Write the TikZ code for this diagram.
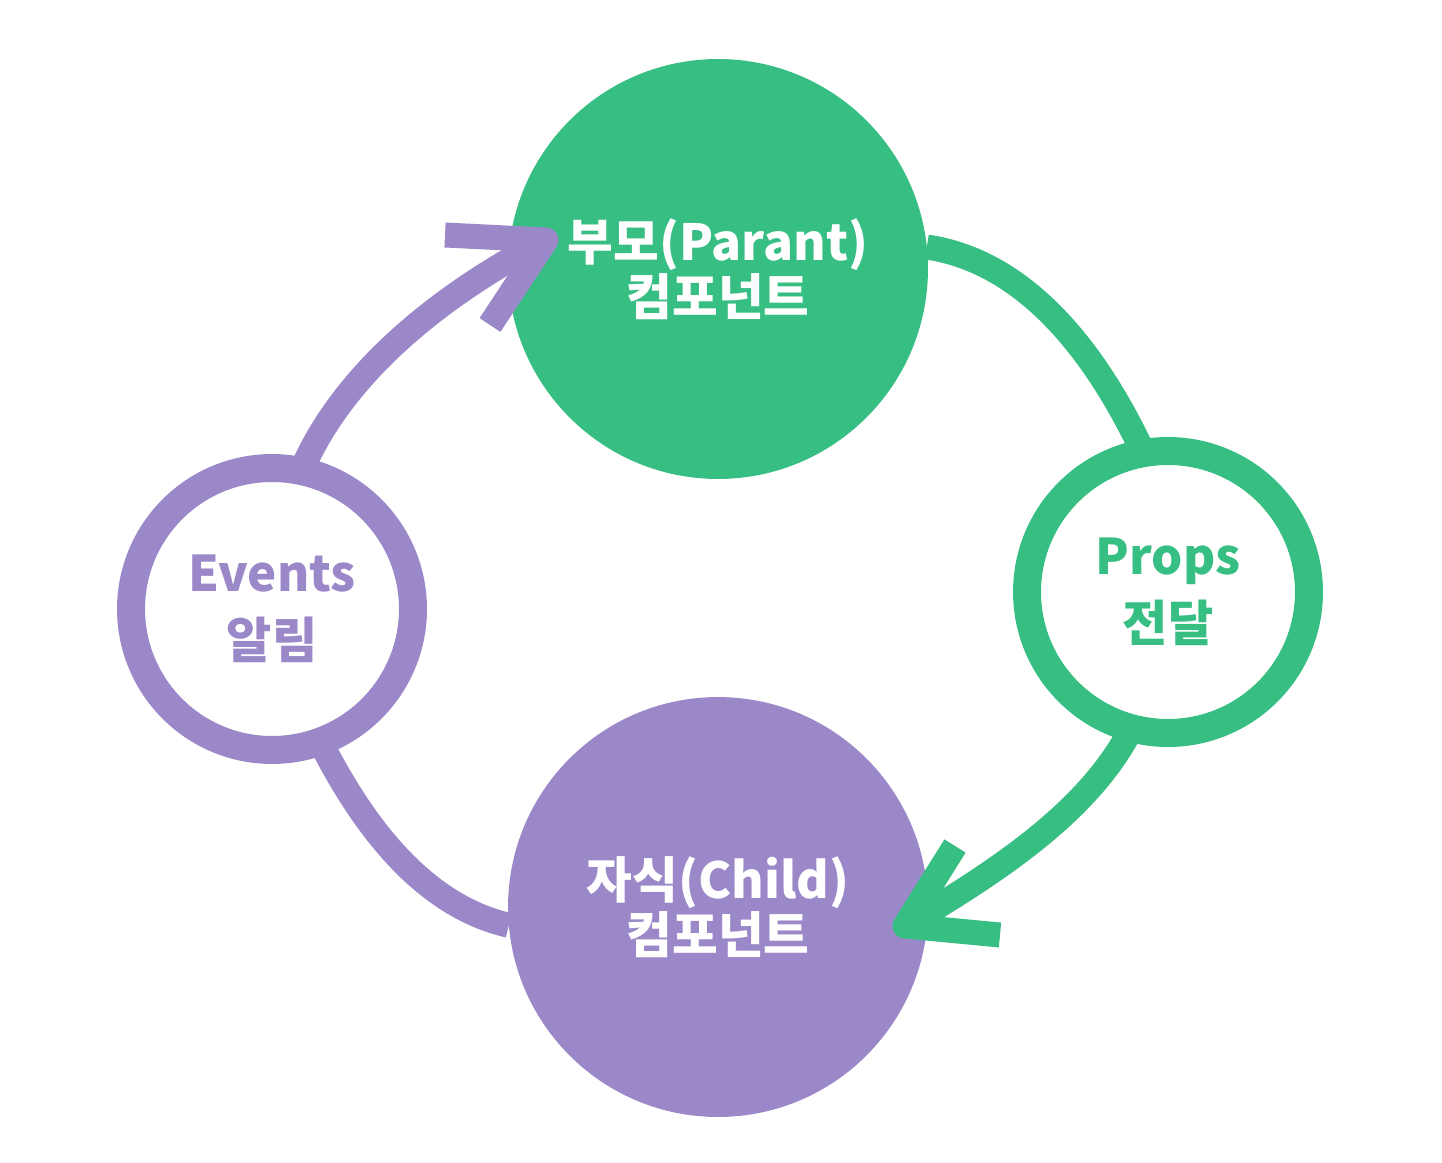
\documentclass[tikz,border=0pt]{standalone}
\usepackage{fontspec}
\setmainfont{Noto Sans CJK KR}
\definecolor{propgreen}{HTML}{37BE82}
\definecolor{eventpurple}{HTML}{9B88C8}

\begin{document}
\begin{tikzpicture}[x=0.02cm, y=-0.02cm,
    every node/.style={font=\bfseries\fontsize{28.3}{31.5}\selectfont, align=center},
    comp/.style={circle, inner sep=0pt, outer sep=0pt, minimum size=8.4cm, text=white},
    ring/.style={circle, draw, line width=0.56cm, inner sep=0pt, outer sep=0pt, minimum size=5.64cm,
      font=\bfseries\fontsize{28}{38}\selectfont},
    flow/.style={line width=0.5cm},
    barb/.style={flow, line join=round}]
  \useasboundingbox (0,0) rectangle (1442,1162);

  % components and messages
  \node[comp, fill=propgreen] (parent) at (718,269) {부모(Parant)\\컴포넌트};
  \node[comp, fill=eventpurple] (child) at (718,907) {자식(Child)\\컴포넌트};
  \node[ring, draw=eventpurple, text=eventpurple] (events) at (272,609) {Events\\알림};
  \node[ring, draw=propgreen, text=propgreen] (props) at (1168,592) {Props\\전달};

  % arrow tips
  \coordinate (ptip) at (546,240);
  \coordinate (pbarbA) at (445,235);
  \coordinate (pbarbB) at (490,325);
  \coordinate (gtip) at (905,926);
  \coordinate (gbarbA) at (955,846);
  \coordinate (gbarbB) at (1000,935);

  % parent -> props -> child
  \draw[flow, propgreen] (parent.6) .. controls (1030,262) and (1100,360) .. (props.100);
  \draw[flow, propgreen] (props.255) .. controls (1090,810) and (1000,870) .. (gtip);
  \draw[barb, propgreen] (gbarbA) -- (gtip) -- (gbarbB);

  % child -> events -> parent
  \draw[flow, eventpurple] (child.185) .. controls (420,905) and (360,820) .. (events.290);
  \draw[flow, eventpurple] (events.78) .. controls (340,380) and (430,300) .. (ptip);
  \draw[barb, eventpurple] (pbarbA) -- (ptip) -- (pbarbB);
\end{tikzpicture}
\end{document}
